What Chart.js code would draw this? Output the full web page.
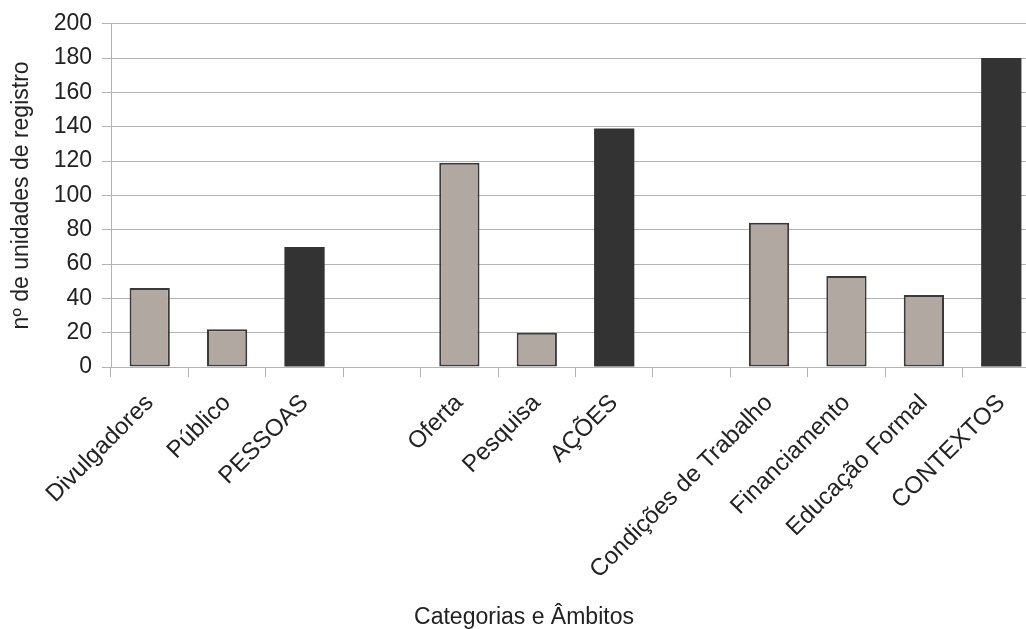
<!DOCTYPE html>
<html>
<head>
<meta charset="utf-8">
<script src="https://cdn.jsdelivr.net/npm/chart.js@4.4.0/dist/chart.umd.min.js"></script>
<style>
  html, body { margin: 0; padding: 0; background: #fff; overflow: hidden; }
  #wrap { width: 1040px; height: 629px; }
</style>
</head>
<body>
<div id="wrap"><canvas id="chart"></canvas></div>
<script>
// categorias e âmbitos (slots vazios separam os grupos)
const categorias = ['Divulgadores', 'Público', 'PESSOAS', '', 'Oferta', 'Pesquisa', 'AÇÕES', '',
  'Condições de Trabalho', 'Financiamento', 'Educação Formal', 'CONTEXTOS'];
const unidades = [46, 22, 70, null, 119, 20, 139, null, 84, 53, 42, 180];
const ambitos = ['PESSOAS', 'AÇÕES', 'CONTEXTOS'];
const yTicks = [0, 20, 40, 60, 80, 100, 120, 140, 160, 180, 200];

const CINZA = '#b0a8a1';
const ESCURO = '#333333';
const GRADE = '#b3b3b3';
const fonte = 'Liberation Sans, Arial, sans-serif';

const ehAmbito = c => ambitos.includes(c);

new Chart(document.getElementById('chart'), {
  type: 'bar',
  data: {
    labels: categorias,
    datasets: [{
      data: unidades,
      backgroundColor: categorias.map(c => ehAmbito(c) ? ESCURO : CINZA),
      borderColor: categorias.map(c => ehAmbito(c) ? ESCURO : '#3a3a3a'),
      borderWidth: categorias.map(c => ehAmbito(c) ? 0 : 2),
      borderSkipped: false,
      categoryPercentage: 1,
      barPercentage: 0.52
    }]
  },
  options: {
    responsive: true,
    maintainAspectRatio: false,
    animation: false,
    layout: { padding: { top: 16, left: 8, right: 0, bottom: 0 } },
    plugins: {
      legend: { display: false },
      tooltip: { enabled: false },
      title: {
        display: true,
        position: 'bottom',
        text: 'Categorias e Âmbitos',
        color: '#222',
        font: { family: fonte, size: 23, weight: 'normal', lineHeight: 1 },
        padding: { top: 0, bottom: 0 }
      }
    },
    scales: {
      x: {
        offset: true,
        afterFit: s => { s.height = 239; },
        grid: {
          offset: true,
          drawOnChartArea: false,
          drawTicks: true,
          tickLength: 10,
          color: GRADE
        },
        border: { color: GRADE },
        ticks: {
          autoSkip: false,
          maxRotation: 45,
          minRotation: 45,
          color: '#222',
          padding: 12,
          font: { family: fonte, size: 24 }
        }
      },
      y: {
        min: 0,
        max: 200,
        afterBuildTicks: s => { s.ticks = yTicks.map(v => ({ value: v })); },
        afterFit: s => { s.width = 103; },
        grid: { color: GRADE, tickLength: 9 },
        border: { color: GRADE },
        ticks: {
          color: '#222',
          padding: 10,
          font: { family: fonte, size: 23 }
        },
        title: {
          display: true,
          text: 'nº de unidades de registro',
          color: '#222',
          font: { family: fonte, size: 23 },
          padding: { top: 0, bottom: 4 }
        }
      }
    }
  }
});
</script>
</body>
</html>
